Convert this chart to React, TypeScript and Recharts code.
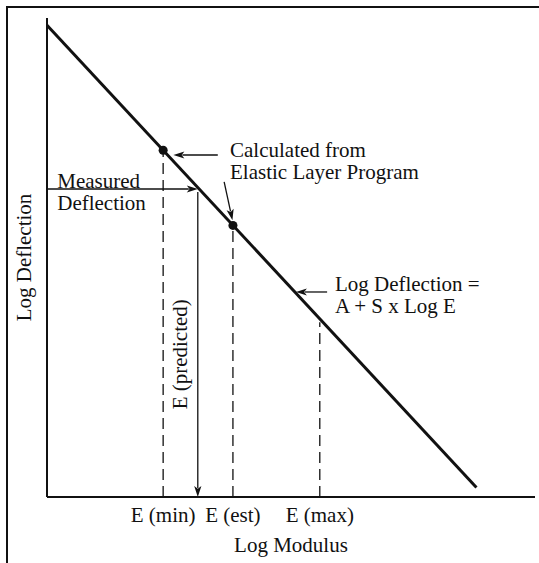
import React from "react";
import {
  ComposedChart,
  Line,
  Scatter,
  XAxis,
  YAxis,
  ReferenceLine,
  ReferenceDot,
} from "recharts";

// log modulus (x) vs log deflection (y), both on a 0–100 relative scale
const fitLogE = [0, 88];
const fitLogD = [98.5, 2];

const calcLogE = [23.8, 38.1];
const calcLogD = [72.4, 56.7];

const boundLabels = ["E (min)", "E (est)", "E (max)"];
const boundLogE = [23.8, 38.1, 55.9];
const boundLogD = [72.4, 56.7, 36.5];

const measuredLogD = 64.3;
const predictedLogE = 30.9;

const fitData = fitLogE.map((e, i) => ({ e, d: fitLogD[i] }));
const calcData = calcLogE.map((e, i) => ({ e, d: calcLogD[i] }));

const INK = "#111";
const FONT = "'Liberation Serif', 'Times New Roman', serif";
const FS = 21;

const arrow = (width = 1.3) => (p: any) => {
  const { x1, y1, x2, y2 } = p;
  const a = Math.atan2(y2 - y1, x2 - x1);
  const len = 11;
  const half = 3.6;
  const bx = x2 - len * Math.cos(a);
  const by = y2 - len * Math.sin(a);
  const pts = [
    `${x2},${y2}`,
    `${bx - half * Math.sin(a)},${by + half * Math.cos(a)}`,
    `${bx + (len * 0.25) * Math.cos(a)},${by + (len * 0.25) * Math.sin(a)}`,
    `${bx + half * Math.sin(a)},${by - half * Math.cos(a)}`,
  ].join(" ");
  return (
    <g>
      <line x1={x1} y1={y1} x2={bx + 2 * Math.cos(a)} y2={by + 2 * Math.sin(a)} stroke={INK} strokeWidth={width} />
      <polygon points={pts} fill={INK} />
    </g>
  );
};

const note = (lines: string[]) => (props: any) => {
  const { x, y } = props.viewBox;
  return (
    <text x={x} y={y} fontFamily={FONT} fontSize={FS} fill={INK}>
      {lines.map((l, i) => (
        <tspan key={i} x={x} dy={i === 0 ? 0 : 22}>
          {l}
        </tspan>
      ))}
    </text>
  );
};

const verticalNote = (value: string) => (props: any) => {
  const { x, y } = props.viewBox;
  return (
    <text
      x={x}
      y={y}
      transform={`rotate(-90 ${x} ${y})`}
      textAnchor="middle"
      dominantBaseline="central"
      fontFamily={FONT}
      fontSize={FS}
      fill={INK}
    >
      {value}
    </text>
  );
};

export default function App() {
  return (
    <div style={{ position: "absolute", left: 0, top: 0, width: 539, height: 563, background: "#fff" }}>
      <div
        style={{
          position: "absolute",
          left: 6,
          top: 6,
          right: 0,
          bottom: 0,
          borderTop: `2px solid ${INK}`,
          borderLeft: `2px solid ${INK}`,
        }}
      />
      <div style={{ position: "absolute", left: 0, top: 0 }}>
        <ComposedChart width={539} height={563} margin={{ top: 18, right: 4, bottom: 0, left: 0 }}>
          <XAxis
            type="number"
            dataKey="e"
            domain={[0, 100]}
            ticks={boundLogE}
            interval={0}
            tickFormatter={(v: number) => boundLabels[boundLogE.indexOf(v)] ?? ""}
            tickLine={false}
            tickMargin={4}
            axisLine={{ stroke: INK, strokeWidth: 2 }}
            tick={{ fontFamily: FONT, fontSize: FS, fill: INK }}
            height={66}
            label={{
              value: "Log Modulus",
              position: "insideBottom",
              offset: 11,
              fontFamily: FONT,
              fontSize: FS,
              fill: INK,
            }}
          />
          <YAxis
            type="number"
            dataKey="d"
            domain={[0, 100]}
            tick={false}
            tickLine={false}
            axisLine={{ stroke: INK, strokeWidth: 2 }}
            width={47}
            label={{
              value: "Log Deflection",
              angle: -90,
              position: "center",
              fontFamily: FONT,
              fontSize: FS,
              fill: INK,
            }}
          />

          {boundLogE.map((e, i) => (
            <ReferenceLine
              key={boundLabels[i]}
              segment={[{ x: e, y: 0 }, { x: e, y: boundLogD[i] }]}
              stroke={INK}
              strokeWidth={1.3}
              strokeDasharray="11 6"
              ifOverflow="visible"
            />
          ))}

          <ReferenceLine
            segment={[{ x: 0, y: measuredLogD }, { x: predictedLogE, y: measuredLogD }]}
            shape={arrow()}
            ifOverflow="visible"
          />
          <ReferenceLine
            segment={[{ x: predictedLogE, y: measuredLogD - 0.6 }, { x: predictedLogE, y: 0 }]}
            shape={arrow()}
            ifOverflow="visible"
          />

          <Line
            data={fitData}
            dataKey="d"
            stroke={INK}
            strokeWidth={3}
            dot={false}
            activeDot={false}
            isAnimationActive={false}
          />
          <Scatter data={calcData} dataKey="d" fill={INK} shape="circle" isAnimationActive={false}>
          </Scatter>

          <ReferenceLine
            segment={[{ x: 35.0, y: 71.4 }, { x: 25.9, y: 71.4 }]}
            shape={arrow()}
            ifOverflow="visible"
          />
          <ReferenceLine
            segment={[{ x: 36.3, y: 65.8 }, { x: 38.0, y: 57.8 }]}
            shape={arrow()}
            ifOverflow="visible"
          />
          <ReferenceLine
            segment={[{ x: 57.4, y: 42.8 }, { x: 51.0, y: 42.8 }]}
            shape={arrow()}
            ifOverflow="visible"
          />

          <ReferenceDot x={37.5} y={71.0} r={0} ifOverflow="visible" label={note(["Calculated from", "Elastic Layer Program"])} />
          <ReferenceDot x={2.1} y={64.5} r={0} ifOverflow="visible" label={note(["Measured", "Deflection"])} />
          <ReferenceDot x={59.0} y={43.0} r={0} ifOverflow="visible" label={note(["Log Deflection =", "A + S x Log E"])} />
          <ReferenceDot x={27.3} y={29.8} r={0} ifOverflow="visible" label={verticalNote("E (predicted)")} />
        </ComposedChart>
      </div>
    </div>
  );
}
